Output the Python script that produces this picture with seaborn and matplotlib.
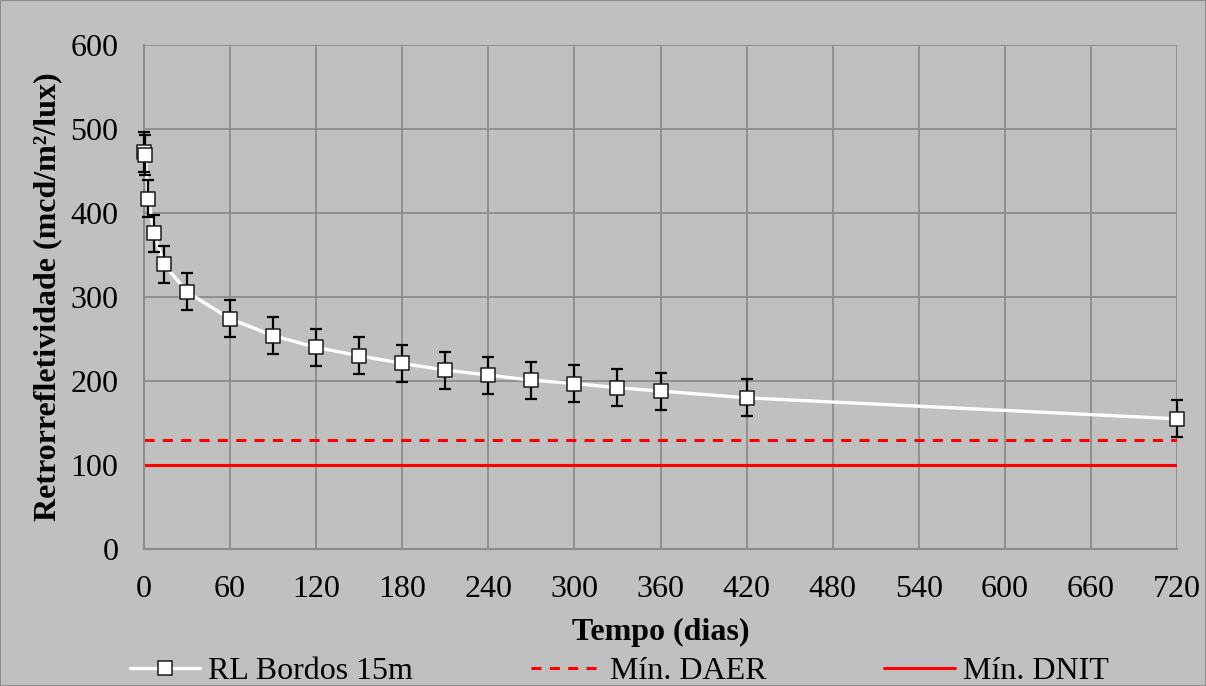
import matplotlib
matplotlib.use("Agg")
import matplotlib.pyplot as plt
import seaborn as sns
import pandas as pd
from matplotlib.lines import Line2D

# Retroreflectivity measurements (edge lines, 15 m geometry)
dias = [0, 1, 3, 7, 14, 30, 60, 90, 120, 150, 180, 210, 240, 270, 300, 330, 360, 420, 720]
rl = [473, 469, 417, 376, 339, 306, 274, 254, 240, 230, 221, 213, 207, 201, 197, 192, 188, 180, 155]
erro = [24, 24, 22, 22, 22, 22, 22, 22, 22, 22, 22, 22, 22, 22, 22, 22, 22, 22, 22]

min_daer = 130
min_dnit = 100

x_ticks = list(range(0, 721, 60))
y_ticks = list(range(0, 601, 100))

df = pd.DataFrame({"Tempo": dias, "RL": rl, "erro": erro})

sns.set_theme(style="whitegrid")
plt.rcParams["font.family"] = ["Liberation Serif", "DejaVu Serif"]
plt.rcParams["text.color"] = "black"
plt.rcParams["axes.labelcolor"] = "black"

bg = "#c0c0c0"
grid_c = "#8c8c8c"
fs = 23

fig = plt.figure(figsize=(12.06, 6.86), dpi=100, facecolor=bg)
ax = fig.add_axes([144 / 1206, 1 - 549 / 686, (1177 - 144) / 1206, (549 - 45) / 686])
ax.set_facecolor(bg)

dash = (0, (3.3, 2.7))
ax.axhline(min_daer, color="#ff0000", lw=2.2, ls=dash, zorder=2)
ax.axhline(min_dnit, color="#ff0000", lw=2.2, zorder=2)

sns.lineplot(data=df, x="Tempo", y="RL", ax=ax, color="white", lw=2.4, zorder=3,
             legend=False)
ax.errorbar(df["Tempo"], df["RL"], yerr=df["erro"], fmt="none", ecolor="black",
            elinewidth=1.6, capsize=4, capthick=1.6, zorder=4, clip_on=False)
ax.scatter(df["Tempo"], df["RL"], marker="s", s=100, facecolor="white",
           edgecolor="#1a1a1a", linewidth=1.1, zorder=5, clip_on=False)

ax.set_xlim(0, 720)
ax.set_ylim(0, 600)
ax.set_xticks(x_ticks)
ax.set_yticks(y_ticks)
ax.grid(True, color=grid_c, lw=1.3)
for s in ["top", "right"]:
    ax.spines[s].set_visible(False)
for s in ["left", "bottom"]:
    ax.spines[s].set_color(grid_c)
    ax.spines[s].set_linewidth(1.5)
ax.tick_params(axis="both", labelsize=fs, labelcolor="black", color=grid_c,
               length=6.5, width=1.2, direction="out")
ax.tick_params(axis="y", pad=12)
ax.tick_params(axis="x", pad=12.5)

ax.set_xlabel("Tempo (dias)", fontsize=fs, fontweight="bold")
ax.set_ylabel("Retrorrefletividade (mcd/m²/lux)", fontsize=fs, fontweight="bold")
ax.xaxis.label.set_va("center")
ax.yaxis.label.set_va("center")
ax.xaxis.set_label_coords(0.5, (549 - 632) / 504)
ax.yaxis.set_label_coords((48 - 144) / 1033, 0.5)

handles = [
    Line2D([0], [0], color="white", lw=2.4, marker="s", markersize=10,
           markerfacecolor="white", markeredgecolor="#1a1a1a", markeredgewidth=1.1),
    Line2D([0], [0], color="#ff0000", lw=2.2, ls=dash),
    Line2D([0], [0], color="#ff0000", lw=2.2),
]
labels = ["RL Bordos 15m", "Mín. DAER", "Mín. DNIT"]
leg = fig.legend(handles, labels, loc="center left",
                 bbox_to_anchor=(130 / 1206, 1 - 671 / 686),
                 ncol=3, frameon=False, fontsize=fs, handlelength=2.2,
                 handletextpad=0.25, columnspacing=3.7, borderpad=0,
                 borderaxespad=0)

fig.patches.append(plt.Rectangle((0, 0), 1, 1, transform=fig.transFigure,
                                 fill=False, edgecolor="#8c8c8c", lw=1.5))

fig.savefig("out.png", dpi=100, facecolor=bg)
